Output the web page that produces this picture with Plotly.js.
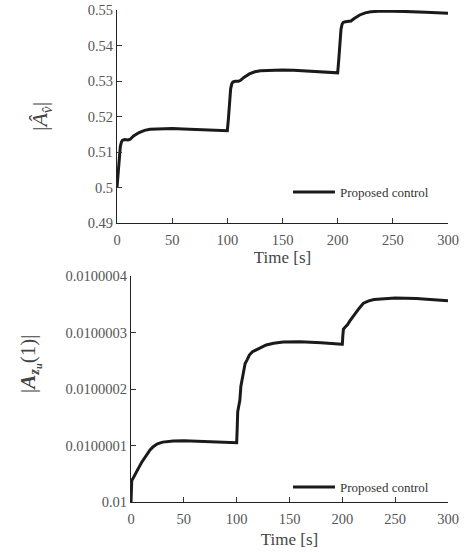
<!DOCTYPE html>
<html>
<head>
<meta charset="utf-8">
<script src="https://cdn.plot.ly/plotly-3.0.1.min.js"></script>
<style>html,body{margin:0;padding:0;background:#fff}#chart{width:475px;height:553px}</style>
</head>
<body>
<div id="chart"></div>
<script>
// ---- data ----
const timeTop = [0,1,2,3,4,5,7,10,12,15,20,25,30,40,50,60,80,100,
  101,102,103,104,105,107,110,112,115,120,125,130,140,150,160,180,200,
  201,202,203,204,205,207,210,212,215,220,225,230,240,250,260,280,300];
const ampTop = [0.5000,0.5040,0.5080,0.5115,0.5128,0.5133,0.5135,0.5134,0.5136,0.5145,0.5155,0.5161,0.5164,0.5166,0.5166,0.5165,0.5163,0.5160,
  0.5195,0.5245,0.5278,0.5292,0.5297,0.5299,0.5299,0.5302,0.5310,0.5320,0.5326,0.5329,0.5331,0.5331,0.5330,0.5327,0.5323,
  0.5360,0.5415,0.5445,0.5460,0.5465,0.5467,0.5467,0.5469,0.5476,0.5486,0.5492,0.5495,0.5497,0.5497,0.5496,0.5494,0.5491];

const timeBot = [0,0.3,0.7,2,4,6,8,10,12,15,18,21,25,30,40,50,70,99.5,
  100,100.5,101,102,103,104,105,106,107,108,110,112,115,120,128,135,144,160,180,199.5,
  200,200.5,201,203,205,207,210,213,216,220,225,230,240,250,270,300];
const ampBot = [0.010000000,0.0100000200,0.0100000380,0.0100000420,0.0100000500,0.0100000560,0.0100000630,0.0100000700,0.0100000760,0.0100000850,0.0100000920,0.0100000980,0.0100001030,0.0100001060,0.0100001080,0.0100001085,0.0100001075,0.0100001050,
  0.0100001050,0.0100001300,0.0100001600,0.0100001700,0.0100001800,0.0100002050,0.0100002150,0.0100002300,0.0100002350,0.0100002450,0.0100002520,0.0100002600,0.0100002660,0.0100002710,0.0100002780,0.0100002810,0.0100002830,0.0100002835,0.0100002820,0.0100002790,
  0.0100002790,0.0100002950,0.0100003060,0.0100003100,0.0100003140,0.0100003200,0.0100003280,0.0100003360,0.0100003430,0.0100003520,0.0100003560,0.0100003585,0.0100003600,0.0100003610,0.0100003600,0.0100003560];

const xTickVals = [0,50,100,150,200,250,300];
const yTopTickVals = [0.49,0.50,0.51,0.52,0.53,0.54,0.55];
const yTopTickText = ['0.49','0.5','0.51','0.52','0.53','0.54','0.55'];
const yBotTickVals = [0.01,0.0100001,0.0100002,0.0100003,0.0100004];
const yBotTickText = ['0.01','0.0100001','0.0100002','0.0100003','0.0100004'];
const seriesName = 'Proposed control';

// ---- styling ----
const FONT = 'Times New Roman, Liberation Serif, DejaVu Serif, serif';
const tickFont = {family: FONT, size: 14.5, color: '#555'};
const lineStyle = {color: '#1a1a1a', width: 3};

const traces = [
  {x: timeTop, y: ampTop, type: 'scatter', mode: 'lines', name: seriesName,
   line: lineStyle, xaxis: 'x', yaxis: 'y', legend: 'legend', showlegend: true},
  {x: timeBot, y: ampBot, type: 'scatter', mode: 'lines', name: seriesName,
   line: lineStyle, xaxis: 'x2', yaxis: 'y2', legend: 'legend2', showlegend: true}
];

const axisCommon = {
  showline: true, linecolor: '#222', linewidth: 1, mirror: false,
  ticks: 'inside', ticklen: 5, tickcolor: '#333', tickwidth: 1,
  showgrid: false, zeroline: false, tickfont: tickFont
};

const legendFont = {family: FONT, size: 13, color: '#333'};

const layout = {
  width: 475, height: 553,
  margin: {l: 0, r: 0, t: 0, b: 0},
  paper_bgcolor: '#fff', plot_bgcolor: '#fff',
  font: {family: FONT},
  showlegend: true,
  xaxis: Object.assign({}, axisCommon, {
    domain: [117/475, 448/475], range: [0, 300], tickvals: xTickVals, anchor: 'y',
    ticklabelstandoff: 4,
    title: {text: 'Time [s]', font: {family: FONT, size: 17, color: '#444'}, standoff: 3}
  }),
  yaxis: Object.assign({}, axisCommon, {
    domain: [1 - 223/553, 1 - 10/553], range: [0.49, 0.55], anchor: 'x',
    tickvals: yTopTickVals, ticktext: yTopTickText
  }),
  xaxis2: Object.assign({}, axisCommon, {
    domain: [131/475, 448/475], range: [0, 300], tickvals: xTickVals, anchor: 'y2',
    ticklabelstandoff: 4,
    title: {text: 'Time [s]', font: {family: FONT, size: 17, color: '#444'}, standoff: 6}
  }),
  yaxis2: Object.assign({}, axisCommon, {
    domain: [1 - 502/553, 1 - 276/553], range: [0.01, 0.0100004], anchor: 'x2',
    tickvals: yBotTickVals, ticktext: yBotTickText
  }),
  legend: {x: 288/475, y: 1 - 192/553, xanchor: 'left', yanchor: 'middle', visible: true,
    itemwidth: 42, bgcolor: 'rgba(0,0,0,0)', borderwidth: 0, font: legendFont},
  legend2: {x: 288/475, y: 1 - 487/553, xanchor: 'left', yanchor: 'middle', visible: true,
    itemwidth: 42, bgcolor: 'rgba(0,0,0,0)', borderwidth: 0, font: legendFont},
  annotations: [
    {text: '|<i>Â<sub>v̂</sub></i>|', xref: 'paper', yref: 'paper',
     x: 41/475, y: 1 - 117/553, xanchor: 'center', yanchor: 'middle',
     textangle: -90, showarrow: false,
     font: {family: FONT, size: 22, color: '#444'}},
    {text: '|<b><i>A<sub>z<sub>u</sub></sub></i></b>(1)|', xref: 'paper', yref: 'paper',
     x: 30/475, y: 1 - 364/553, xanchor: 'center', yanchor: 'middle',
     textangle: -90, showarrow: false,
     font: {family: FONT, size: 21, color: '#444'}}
  ]
};

Plotly.newPlot('chart', traces, layout, {displayModeBar: false, staticPlot: true});
</script>
</body>
</html>
